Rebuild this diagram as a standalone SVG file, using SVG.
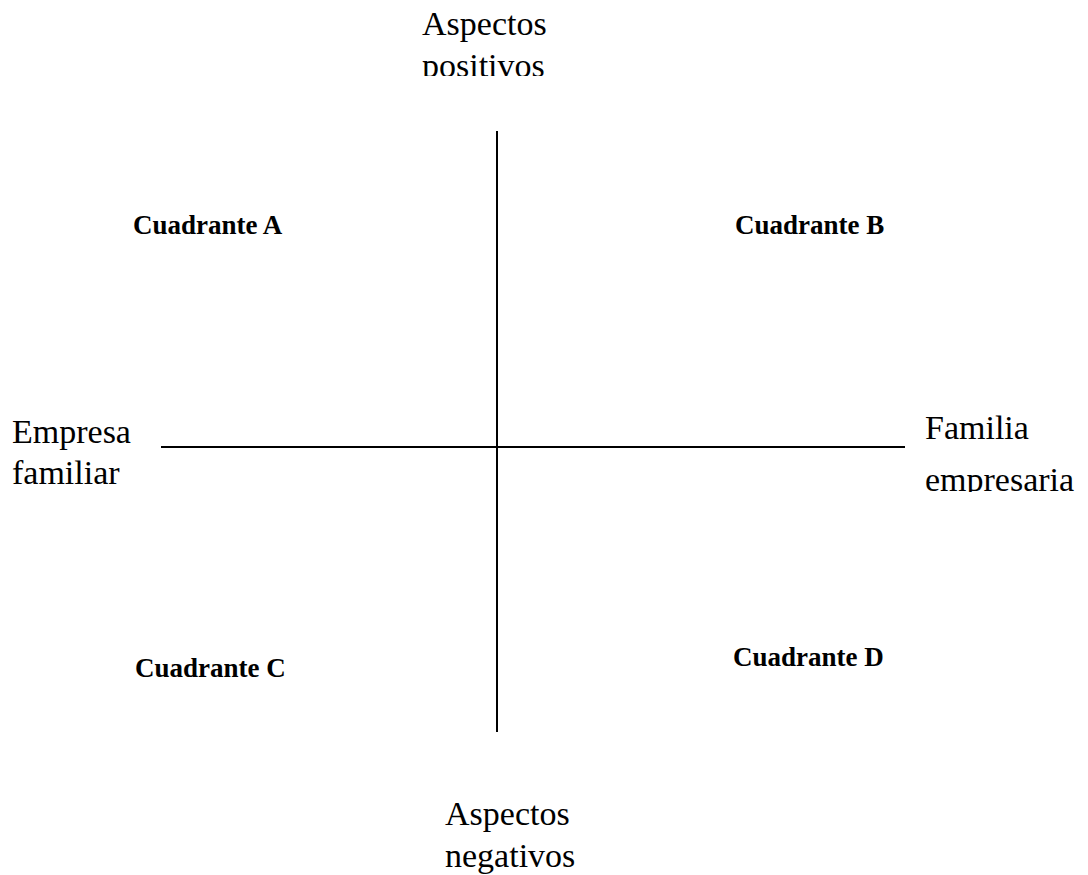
<svg xmlns="http://www.w3.org/2000/svg" width="1088" height="875" viewBox="0 0 1088 875">
<style>
.lbl{font-family:"Liberation Serif","Times New Roman",serif;font-size:34px;fill:#000}
.q{font-family:"Liberation Serif","Times New Roman",serif;font-size:27px;font-weight:bold;fill:#000}
.ax{stroke:#000;stroke-width:2;fill:none}
</style>
<defs>
<clipPath id="clipTop"><rect x="0" y="0" width="1088" height="76"/></clipPath>
<clipPath id="clipRight"><rect x="900" y="400" width="188" height="92"/></clipPath>
</defs>
<rect width="1088" height="875" fill="#fff"/>
<g id="connectors">
<line class="ax" x1="497" y1="131" x2="497" y2="732"/>
<line class="ax" x1="161" y1="447" x2="905" y2="447"/>
</g>
<g id="top-label" clip-path="url(#clipTop)">
<text class="lbl" x="422" y="35">Aspectos</text>
<text class="lbl" x="422" y="77">positivos</text>
</g>
<g id="left-label">
<text class="lbl" x="12" y="443">Empresa</text>
<text class="lbl" x="12" y="484">familiar</text>
</g>
<g id="right-label" clip-path="url(#clipRight)">
<text class="lbl" x="925" y="439">Familia</text>
<text class="lbl" x="925" y="491">empresaria</text>
</g>
<g id="bottom-label">
<text class="lbl" x="445" y="825">Aspectos</text>
<text class="lbl" x="445" y="867">negativos</text>
</g>
<g id="quadrant-a"><text class="q" x="133" y="234">Cuadrante A</text></g>
<g id="quadrant-b"><text class="q" x="735" y="234">Cuadrante B</text></g>
<g id="quadrant-c"><text class="q" x="135" y="677">Cuadrante C</text></g>
<g id="quadrant-d"><text class="q" x="733" y="666">Cuadrante D</text></g>
</svg>
